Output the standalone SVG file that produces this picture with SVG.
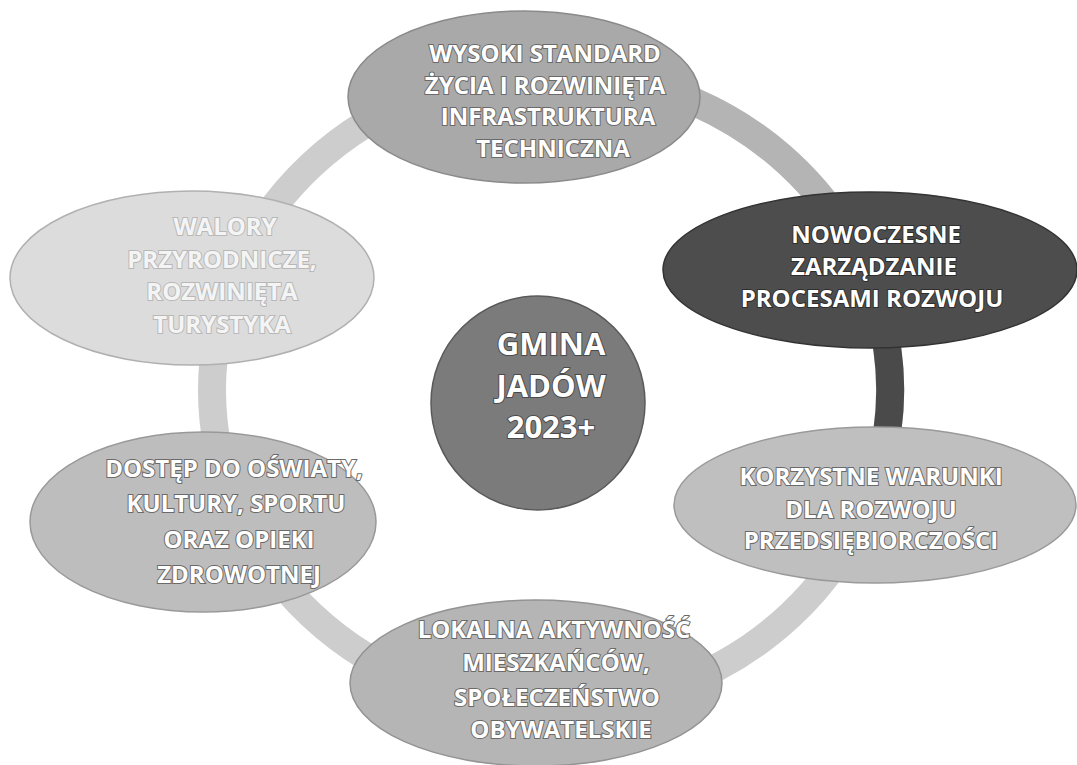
<svg xmlns="http://www.w3.org/2000/svg" width="1077" height="765" viewBox="0 0 1077 765">
<style>
.lbl{font-family:"Open Sans","Liberation Sans","DejaVu Sans",sans-serif;font-weight:700;font-size:24px;fill:#ffffff;stroke:#6a6a6a;stroke-width:2;paint-order:stroke;text-anchor:middle}
.big{font-size:31px;stroke:#4a4a4a}
.faint{stroke:#b8b8b8;fill:#f4f4f4}
.ring{fill:none;stroke-width:28}
</style>
<rect width="1077" height="765" fill="#ffffff"/>
<g id="connectors">
<ellipse class="ring" cx="551" cy="390" rx="339" ry="318" stroke="#cdcdcd"/>
<path class="ring" d="M 694.3 101.8 A 339 318 0 0 1 844.6 231" stroke="#b4b4b4"/>
<path class="ring" d="M 878.5 307.7 A 339 318 0 0 1 878.5 472.3" stroke="#4a4a4a"/>
</g>
<g id="node-top">
<ellipse cx="524" cy="97" rx="176" ry="86" fill="#a9a9a9" stroke="#8a8a8a" stroke-width="1.5"/>
<text class="lbl" x="545" y="62">WYSOKI STANDARD</text>
<text class="lbl" x="545" y="94">ŻYCIA I ROZWINIĘTA</text>
<text class="lbl" x="548" y="125">INFRASTRUKTURA</text>
<text class="lbl" x="553" y="157">TECHNICZNA</text>
</g>
<g id="node-walory">
<ellipse cx="192" cy="278" rx="182" ry="87" fill="#dcdcdc" stroke="#b0b0b0" stroke-width="1.5"/>
<text class="lbl faint" x="225" y="235">WALORY</text>
<text class="lbl faint" x="222" y="268">PRZYRODNICZE,</text>
<text class="lbl faint" x="222" y="300">ROZWINIĘTA</text>
<text class="lbl faint" x="222" y="333">TURYSTYKA</text>
</g>
<g id="node-nowoczesne">
<ellipse cx="870" cy="270" rx="207" ry="78" fill="#4d4d4d" stroke="#333333" stroke-width="1.5"/>
<text class="lbl" x="876" y="243" style="stroke:#2e2e2e">NOWOCZESNE</text>
<text class="lbl" x="874" y="275" style="stroke:#2e2e2e">ZARZĄDZANIE</text>
<text class="lbl" x="872" y="307" style="stroke:#2e2e2e">PROCESAMI ROZWOJU</text>
</g>
<g id="node-center">
<circle cx="538" cy="403" r="107" fill="#7b7b7b" stroke="#5a5a5a" stroke-width="1.5"/>
<text class="lbl big" x="551" y="355">GMINA</text>
<text class="lbl big" x="551" y="397">JADÓW</text>
<text class="lbl big" x="551" y="438">2023+</text>
</g>
<g id="node-korzystne">
<ellipse cx="875" cy="505" rx="201" ry="78" fill="#bfbfbf" stroke="#9a9a9a" stroke-width="1.5"/>
<text class="lbl" x="871" y="485">KORZYSTNE WARUNKI</text>
<text class="lbl" x="871" y="518">DLA ROZWOJU</text>
<text class="lbl" x="871" y="549">PRZEDSIĘBIORCZOŚCI</text>
</g>
<g id="node-dostep">
<ellipse cx="203" cy="522" rx="173" ry="90" fill="#bdbdbd" stroke="#999999" stroke-width="1.5"/>
<text class="lbl" x="234" y="477">DOSTĘP DO OŚWIATY,</text>
<text class="lbl" x="236" y="512">KULTURY, SPORTU</text>
<text class="lbl" x="239" y="548">ORAZ OPIEKI</text>
<text class="lbl" x="239" y="583">ZDROWOTNEJ</text>
</g>
<g id="node-lokalna">
<ellipse cx="536" cy="683" rx="186" ry="83" fill="#b5b5b5" stroke="#939393" stroke-width="1.5"/>
<text class="lbl" x="554" y="638">LOKALNA AKTYWNOŚĆ</text>
<text class="lbl" x="556" y="671">MIESZKAŃCÓW,</text>
<text class="lbl" x="557" y="706">SPOŁECZEŃSTWO</text>
<text class="lbl" x="561" y="738">OBYWATELSKIE</text>
</g>
</svg>
